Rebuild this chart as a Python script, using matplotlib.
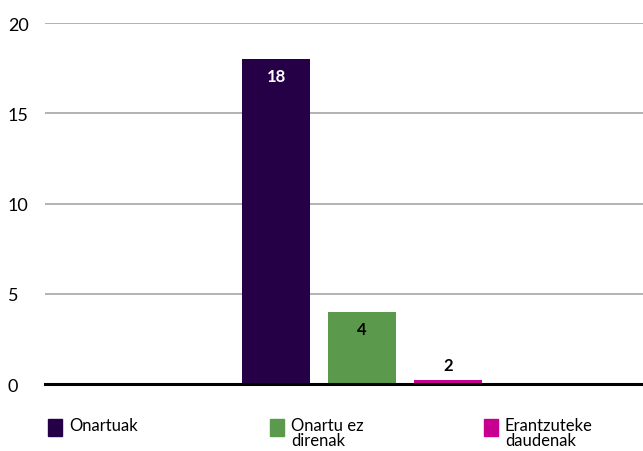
import matplotlib
matplotlib.use("Agg")
import matplotlib.pyplot as plt
import matplotlib.patches as patches

# data
categories = ["Onartuak", "Onartu ez\ndirenak", "Erantzuteke\ndaudenak"]
values = [18, 4, 0.2]          # bar heights as drawn
value_labels = ["18", "4", "2"]  # labels as printed on the chart
colors = ["#250046", "#5b9a4d", "#c8008f"]
label_colors = ["white", "black", "black"]
yticks = [0, 5, 10, 15, 20]

plt.rcParams['font.family'] = ['Lato', 'DejaVu Sans']

fig = plt.figure(figsize=(6.43, 4.52), dpi=100)
ax = fig.add_axes([45/643, 1-385/452, 1-45/643, (385-24)/452])

x = list(range(len(values)))
bars = ax.bar(x, values, width=0.79, color=colors, zorder=2)

#value labels: inside the tall bars, above the flat one
for i, b in enumerate(bars):
    h = b.get_height()
    if h > 1:
        ax.text(b.get_x() + b.get_width()/2, h - 0.5, value_labels[i],
                ha='center', va='top', color=label_colors[i],
                fontsize=12, fontweight='bold', zorder=3)
    else:
        ax.text(b.get_x() + b.get_width()/2, h + 0.4, value_labels[i],
                ha='center', va='bottom', color=label_colors[i],
                fontsize=12, fontweight='bold', zorder=3)

ax.set_xlim(-2.69, 4.27)
ax.set_ylim(0, 20)
ax.set_yticks(yticks)
ax.set_xticks([])
for t in yticks[1:]:
    ax.axhline(t, color='#a6a6a6', linewidth=1.2, zorder=1)
ax.axhline(0, color='black', linewidth=2.2, zorder=4, clip_on=False)
for s in ax.spines.values():
    s.set_visible(False)
ax.tick_params(axis='y', length=0, pad=0, labelsize=13)
for lab in ax.get_yticklabels():
    lab.set_horizontalalignment('left')
    lab.set_x(-37/598)

#legend drawn by hand in figure coordinates
leg_x = [48, 270, 484]
for i, name in enumerate(categories):
    fig.patches.append(patches.Rectangle((leg_x[i]/643, 1-437/452), 14/643, 17/452,
                                         transform=fig.transFigure, color=colors[i]))
    fig.text((leg_x[i]+21)/643, 1-418/452, name, ha='left', va='top',
             fontsize=12, linespacing=0.92)

fig.savefig("out.png", dpi=100)
